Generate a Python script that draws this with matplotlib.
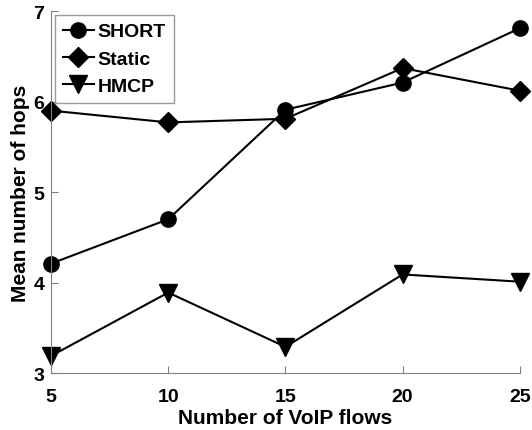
import matplotlib
matplotlib.use("Agg")
import matplotlib.pyplot as plt

plt.rcParams['font.family'] = ['Liberation Sans', 'DejaVu Sans']
plt.rcParams['font.weight'] = 'bold'

flows = [5, 10, 15, 20, 25]
short_hops = [4.21, 4.70, 5.91, 6.21, 6.81]
static_hops = [5.90, 5.77, 5.81, 6.37, 6.12]
hmcp_hops = [3.19, 3.89, 3.29, 4.09, 4.01]

fig = plt.figure(figsize=(5.32, 4.31), dpi=100)
ax = fig.add_axes([0.096, 0.132, 0.881, 0.840])

ax.plot(flows, short_hops, '-o', color='black', lw=1.5, ms=11, label='SHORT', clip_on=False)
ax.plot(flows, static_hops, '-D', color='black', lw=1.5, ms=10, label='Static', clip_on=False)
ax.plot(flows, hmcp_hops, '-v', color='black', lw=1.5, ms=13, label='HMCP', clip_on=False)

ax.set_xlim(5, 25)
ax.set_ylim(3, 7)
ax.set_xticks([5, 10, 15, 20, 25])
ax.set_yticks([3, 4, 5, 6, 7])
ax.tick_params(direction='in', length=5, color='#808080', labelsize=14)
ax.tick_params(axis='x', pad=11)
ax.tick_params(axis='y', pad=5)
for s in ['top', 'right']:
    ax.spines[s].set_visible(False)
for s in ['left', 'bottom']:
    ax.spines[s].set_color('#808080')

ax.set_xlabel('Number of VoIP flows', fontsize=15, fontweight='bold', labelpad=2)
ax.set_ylabel('Mean number of hops', fontsize=15, fontweight='bold', labelpad=2)

leg = ax.legend(loc='upper left', fontsize=14, frameon=True, fancybox=False,
                edgecolor='#808080', borderaxespad=0.2, handlelength=1.6,
                handletextpad=0.2, labelspacing=0.5, borderpad=0.4)
leg.get_frame().set_linewidth(1.0)

fig.savefig('out.png', dpi=100)
